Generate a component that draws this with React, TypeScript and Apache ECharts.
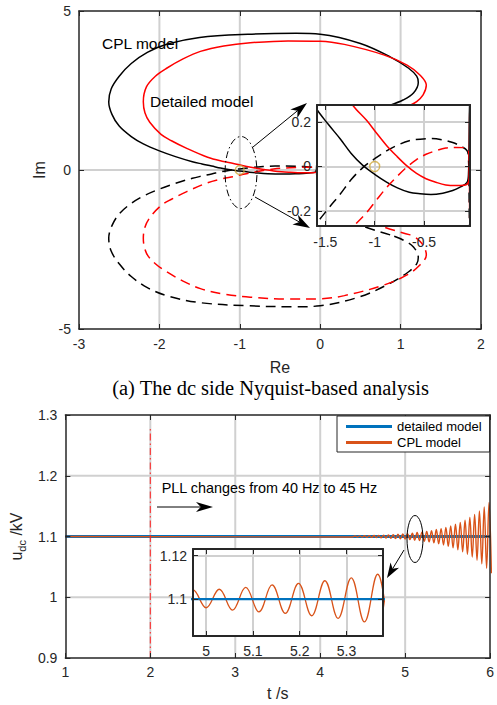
import React, { useEffect, useRef } from 'react';
import * as echarts from 'echarts';

const FONT = '"Liberation Sans", Arial, Helvetica, sans-serif';
const SERIF = '"Liberation Serif", "Times New Roman", serif';
const AX = '#262626';
const GRIDC = '#d0d0d0';
const GOLD = '#D0A838';
const BLUE = '#0072BD';
const ORANGE = '#D95319';

// ---------------- Nyquist (top) data ----------------
// CPL model, positive-frequency branch (closed loop), [Re, Im]
const cplLoop: number[][] = [
  [0.87, 2.04], [0.55, 1.78], [0.27, 1.42], [0.08, 0.9], [-0.02, 0.48], [-0.04, 0.26],
  [-0.045, 0.1], [-0.05, -0.03], [-0.065, -0.072], [-0.14, -0.094], [-0.21, -0.108],
  [-0.31, -0.12], [-0.43, -0.126], [-0.54, -0.123], [-0.65, -0.116], [-0.77, -0.096],
  [-0.88, -0.07], [-1.0, -0.035], [-1.12, 0.005], [-1.24, 0.06], [-1.35, 0.125],
  [-1.47, 0.19], [-1.59, 0.26], [-1.8, 0.42], [-2.0, 0.6], [-2.2, 0.82], [-2.35, 1.05],
  [-2.5, 1.38], [-2.59, 1.75], [-2.63, 2.14], [-2.6, 2.55], [-2.5, 2.95], [-2.35, 3.35],
  [-2.15, 3.7], [-1.9, 3.96], [-1.5, 4.17], [-0.9, 4.27], [-0.3, 4.3], [0.0, 4.27],
  [0.5, 3.98], [0.87, 3.56], [1.1, 3.2], [1.2, 2.95], [1.22, 2.75], [1.16, 2.42],
  [1.03, 2.2], [0.87, 2.04],
];
// Detailed model, positive-frequency branch
const detailedLoop: number[][] = [
  [1.12, 2.04], [0.8, 1.8], [0.45, 1.45], [0.15, 0.95], [0.0, 0.55], [-0.035, 0.3],
  [-0.04, 0.1], [-0.042, -0.03], [-0.055, -0.075], [-0.1, -0.085], [-0.18, -0.086],
  [-0.28, -0.083], [-0.38, -0.071], [-0.48, -0.055], [-0.58, -0.03], [-0.68, 0.005],
  [-0.78, 0.048], [-0.88, 0.095], [-0.98, 0.15], [-1.08, 0.207], [-1.22, 0.275],
  [-1.4, 0.4], [-1.66, 0.68], [-1.85, 0.92], [-1.98, 1.12], [-2.12, 1.5], [-2.18, 1.8],
  [-2.2, 2.15], [-2.16, 2.62], [-2.05, 2.95], [-1.91, 3.2], [-1.7, 3.5], [-1.49, 3.73],
  [-1.2, 3.9], [-0.87, 4.0], [-0.4, 4.06], [0.0, 4.05], [0.3, 3.95], [0.79, 3.62],
  [1.08, 3.3], [1.24, 2.99], [1.32, 2.67], [1.28, 2.36], [1.2, 2.15], [1.12, 2.04],
];
const criticalPoint: number[][] = [[-1, 0]];
const reGrid = [-2, -1, 0, 1];
const imGrid = [0];
const insetReTicks = [-1.5, -1, -0.5];
const insetImTicks = [-0.2, 0, 0.2];

// ---------------- time domain (bottom) data ----------------
const detailedU: number[][] = [[1, 1.1], [6, 1.1]];
const cplFlat: number[][] = [[1, 1.1]];
const cplOscStart = 4.3796; // s, first trough
const cplHalfPeriod = 0.0282; // s between successive extrema
const cplExtrema = [
  1.0992, 1.1009, 1.0991, 1.101, 1.0989, 1.1012, 1.0987, 1.1014, 1.0985, 1.1016,
  1.0982, 1.1019, 1.0979, 1.1022, 1.0976, 1.1026, 1.0972, 1.103, 1.0967, 1.1036,
  1.0962, 1.1042, 1.096, 1.1045, 1.0949, 1.1054, 1.0941, 1.1065, 1.0934, 1.1072,
  1.0923, 1.1084, 1.0911, 1.1097, 1.0895, 1.1114, 1.088, 1.113, 1.086, 1.115,
  1.0838, 1.1174, 1.0813, 1.1201, 1.0783, 1.1233, 1.0749, 1.127, 1.0709, 1.1313,
  1.0663, 1.1362, 1.061, 1.1419, 1.0549, 1.1486, 1.0477, 1.1562, 1.0395,
];
const pllStepLine: number[][] = [[2, 0.9], [2, 1.277]];
const tGrid = [2, 3, 4, 5];
const uGrid = [1.0, 1.1, 1.2];
const tInsetTicks = [5, 5.1, 5.2, 5.3];
const uInsetTicks = [1.1, 1.12];

const mirror = (pts: number[][]) => pts.map(([x, y]) => [x, -y]);
const cplU: number[][] = [
  ...cplFlat,
  ...cplExtrema.map((v, k) => [cplOscStart + k * cplHalfPeriod, v]),
];

function arrow(x1: number, y1: number, x2: number, y2: number, len: number, halfW: number) {
  const dx = x2 - x1, dy = y2 - y1;
  const L = Math.hypot(dx, dy);
  const ux = dx / L, uy = dy / L, nx = -uy, ny = ux;
  const bx = x2 - ux * len, by = y2 - uy * len;
  const mx = x2 - ux * len * 0.72, my = y2 - uy * len * 0.72;
  return [
    { type: 'line', z: 30, shape: { x1, y1, x2: mx, y2: my }, style: { stroke: '#000', lineWidth: 1 } },
    {
      type: 'polygon', z: 30,
      shape: { points: [[x2, y2], [bx + nx * halfW, by + ny * halfW], [mx, my], [bx - nx * halfW, by - ny * halfW]] },
      style: { fill: '#000' },
    },
  ];
}

// Border/tick/label axis
function axis(gridIndex: number, position: string, min: number, max: number, o: any = {}) {
  return {
    type: 'value', gridIndex, position, min, max,
    interval: o.interval,
    z: o.z ?? 6,
    axisLine: { show: true, onZero: false, lineStyle: { color: AX, width: o.lw ?? 1.5 } },
    axisTick: {
      show: true, inside: true, length: 5,
      lineStyle: { color: AX, width: 1 },
      ...(o.custom ? { customValues: o.custom } : {}),
    },
    axisLabel: o.label
      ? {
          show: true, margin: o.margin ?? 8, color: AX, fontFamily: FONT, fontSize: 14,
          ...(o.custom ? { customValues: o.custom } : {}),
        }
      : { show: false },
    splitLine: { show: false },
    name: o.name,
    nameLocation: 'middle',
    nameGap: o.nameGap,
    nameTextStyle: o.nameTextStyle ?? { fontFamily: FONT, fontSize: 16, color: AX },
  };
}

// inset grid lines drawn as mark lines at the tick values
function gridLines(xs: number[], ys: number[], z: number) {
  return {
    silent: true, z, symbol: ['none', 'none'], animation: false,
    label: { show: false },
    emphasis: { disabled: true },
    lineStyle: { color: GRIDC, width: 2, type: 'solid', opacity: 1 },
    data: [...xs.map((v) => ({ xAxis: v })), ...ys.map((v) => ({ yAxis: v }))],
  };
}

const nyqSeries = (xi: number, yi: number, z: number, lw: number, sym: number, grid: any) => [
  {
    type: 'line', xAxisIndex: xi, yAxisIndex: yi, z, data: cplLoop, smooth: 0.35, symbol: 'none',
    lineStyle: { color: '#000', width: lw }, ...(grid ? { markLine: grid } : {}),
  },
  { type: 'line', xAxisIndex: xi, yAxisIndex: yi, z, data: mirror(cplLoop), smooth: 0.35, symbol: 'none', lineStyle: { color: '#000', width: lw, type: [10, 6] } },
  { type: 'line', xAxisIndex: xi, yAxisIndex: yi, z, data: detailedLoop, smooth: 0.35, symbol: 'none', lineStyle: { color: '#ff0000', width: lw } },
  { type: 'line', xAxisIndex: xi, yAxisIndex: yi, z, data: mirror(detailedLoop), smooth: 0.35, symbol: 'none', lineStyle: { color: '#ff0000', width: lw, type: [10, 6] } },
  {
    type: 'scatter', xAxisIndex: xi, yAxisIndex: yi, z: z + 1, data: criticalPoint, symbol: 'circle', symbolSize: sym,
    itemStyle: { color: 'rgba(0,0,0,0)', borderColor: GOLD, borderWidth: 1.4 },
  },
];

const baseGraphic: any[] = [
  {
    type: 'text', x: 270.5, y: 388, z: 30,
    style: { text: '(a) The dc side Nyquist-based analysis', fontFamily: SERIF, fontSize: 20.5, fill: '#000', align: 'center', verticalAlign: 'middle' },
  },
  {
    type: 'text', x: 102, y: 43, z: 30,
    style: { text: 'CPL model', fontFamily: FONT, fontSize: 15.5, fill: '#000', align: 'left', verticalAlign: 'middle' },
  },
  {
    type: 'text', x: 150, y: 101.5, z: 30,
    style: { text: 'Detailed model', fontFamily: FONT, fontSize: 15.5, fill: '#000', align: 'left', verticalAlign: 'middle' },
  },
  {
    type: 'ellipse', z: 30, shape: { cx: 241, cy: 172.5, rx: 16, ry: 36 },
    style: { fill: 'none', stroke: '#000', lineWidth: 1, lineDash: [7, 3, 1.5, 3] },
  },
  ...arrow(253, 147, 307, 103, 17, 5.5),
  ...arrow(255, 197, 310, 228, 17, 5.5),
  {
    type: 'text', x: 161.7, y: 487.7, z: 30,
    style: { text: 'PLL changes from 40 Hz to 45 Hz', fontFamily: FONT, fontSize: 14.4, fill: '#000', align: 'left', verticalAlign: 'middle' },
  },
  ...arrow(157, 507, 213, 507, 17, 5),
  {
    type: 'ellipse', z: 30, shape: { cx: 415, cy: 539, rx: 8, ry: 23.5 },
    style: { fill: 'none', stroke: '#000', lineWidth: 1 },
  },
  ...arrow(404, 550, 387, 578, 15, 5),
];

const option: any = {
  animation: false,
  textStyle: { fontFamily: FONT },
  grid: [
    { left: 79, top: 11, width: 402, height: 318 },
    { left: 317, top: 105, width: 153, height: 121, show: true, backgroundColor: '#fff', borderWidth: 0, z: 10 },
    { left: 63, top: 415, width: 435.5, height: 243 },
    { left: 193, top: 549, width: 190, height: 87, show: true, backgroundColor: '#fff', borderWidth: 0, z: 10 },
  ],
  xAxis: [
    axis(0, 'bottom', -3, 2, { interval: 1, label: true, name: 'Re', nameGap: 30 }),
    axis(0, 'top', -3, 2, { interval: 1 }),
    axis(1, 'bottom', -1.584, -0.035, { custom: insetReTicks, label: true, z: 13, lw: 2, margin: 9 }),
    axis(1, 'top', -1.584, -0.035, { custom: insetReTicks, z: 13, lw: 2 }),
    axis(2, 'bottom', 1, 6, { interval: 1, label: true, name: 't /s', nameGap: 27, margin: 7 }),
    axis(2, 'top', 1, 6, { interval: 1 }),
    axis(3, 'bottom', 4.972, 5.378, { custom: tInsetTicks, label: true, z: 13, lw: 2, margin: 8 }),
    axis(3, 'top', 4.972, 5.378, { custom: tInsetTicks, z: 13, lw: 2 }),
  ],
  yAxis: [
    axis(0, 'left', -5, 5, { interval: 5, label: true, name: 'Im', nameGap: 27 }),
    axis(0, 'right', -5, 5, { interval: 5 }),
    axis(1, 'left', -0.268, 0.277, { custom: insetImTicks, label: true, z: 13, lw: 2, margin: 6 }),
    axis(1, 'right', -0.268, 0.277, { custom: insetImTicks, z: 13, lw: 2 }),
    axis(2, 'left', 0.9, 1.3, {
      interval: 0.1, label: true, name: '{a|u}{b|dc}{a| /kV}', nameGap: 34,
      nameTextStyle: {
        rich: {
          a: { fontFamily: FONT, fontSize: 16, color: AX, lineHeight: 22, verticalAlign: 'middle' },
          b: { fontFamily: FONT, fontSize: 11, color: AX, lineHeight: 11, verticalAlign: 'bottom' },
        },
      },
    }),
    axis(2, 'right', 0.9, 1.3, { interval: 0.1 }),
    axis(3, 'left', 1.083, 1.123, { custom: uInsetTicks, label: true, z: 13, lw: 2, margin: 6 }),
    axis(3, 'right', 1.083, 1.123, { custom: uInsetTicks, z: 13, lw: 2 }),
  ],
  legend: {
    data: ['detailed model', 'CPL model'],
    orient: 'vertical', left: 337, top: 416,
    itemWidth: 46, itemHeight: 3, icon: 'rect', itemGap: 3,
    padding: [4, 8, 3, 9],
    backgroundColor: '#fff', borderColor: AX, borderWidth: 1,
    textStyle: { fontFamily: FONT, fontSize: 13, color: '#000' },
    selectedMode: false, z: 20,
  },
  series: [
    ...nyqSeries(0, 0, 5, 1.5, 9, null),
    ...nyqSeries(2, 2, 12, 1.5, 10, gridLines(insetReTicks, insetImTicks, 11)),
    {
      name: 'detailed model', type: 'line', xAxisIndex: 4, yAxisIndex: 4, z: 5, data: detailedU, symbol: 'none',
      color: BLUE, lineStyle: { color: BLUE, width: 3 },
    },
    {
      name: 'CPL model', type: 'line', xAxisIndex: 4, yAxisIndex: 4, z: 5, data: cplU, symbol: 'none', smooth: 0.4,
      color: ORANGE, lineStyle: { color: ORANGE, width: 1.4 },
    },
    {
      type: 'line', xAxisIndex: 4, yAxisIndex: 4, z: 5, data: pllStepLine, symbol: 'none',
      lineStyle: { color: '#ff2020', width: 1, type: [7, 3, 1.5, 3] },
    },
    {
      type: 'line', xAxisIndex: 6, yAxisIndex: 6, z: 12, data: cplU, symbol: 'none', smooth: 0.4,
      lineStyle: { color: ORANGE, width: 1.3 },
      markLine: gridLines(tInsetTicks, uInsetTicks, 11),
    },
    {
      type: 'line', xAxisIndex: 6, yAxisIndex: 6, z: 12, data: detailedU, symbol: 'none',
      lineStyle: { color: BLUE, width: 2.2 },
    },
  ],
  graphic: baseGraphic,
};

// main-plot grid lines, placed through the axes' own scales
const mainGrids = [
  { xi: 0, yi: 0, xs: reGrid, ys: imGrid, xr: [-3, 2], yr: [-5, 5] },
  { xi: 4, yi: 4, xs: tGrid, ys: uGrid, xr: [1, 6], yr: [0.9, 1.3] },
];

export default function App() {
  const ref = useRef<HTMLDivElement>(null);
  useEffect(() => {
    const chart = echarts.init(ref.current!, null, { renderer: 'svg' });
    chart.setOption(option);
    const lines: any[] = [];
    mainGrids.forEach((g, gi) => {
      const finder = { xAxisIndex: g.xi, yAxisIndex: g.yi };
      g.xs.forEach((v, i) => {
        const a = chart.convertToPixel(finder, [v, g.yr[0]]) as number[];
        const b = chart.convertToPixel(finder, [v, g.yr[1]]) as number[];
        lines.push({
          type: 'line', id: `gx${gi}_${i}`, z: 1, silent: true,
          shape: { x1: a[0], y1: a[1], x2: b[0], y2: b[1] },
          style: { stroke: GRIDC, lineWidth: 2 },
        });
      });
      g.ys.forEach((v, i) => {
        const a = chart.convertToPixel(finder, [g.xr[0], v]) as number[];
        const b = chart.convertToPixel(finder, [g.xr[1], v]) as number[];
        lines.push({
          type: 'line', id: `gy${gi}_${i}`, z: 1, silent: true,
          shape: { x1: a[0], y1: a[1], x2: b[0], y2: b[1] },
          style: { stroke: GRIDC, lineWidth: 2 },
        });
      });
    });
    chart.setOption({ graphic: [...baseGraphic, ...lines] });
    return () => chart.dispose();
  }, []);
  return (
    <div
      ref={ref}
      style={{ position: 'absolute', left: 0, top: 0, width: 497, height: 705, background: '#fff' }}
    />
  );
}
